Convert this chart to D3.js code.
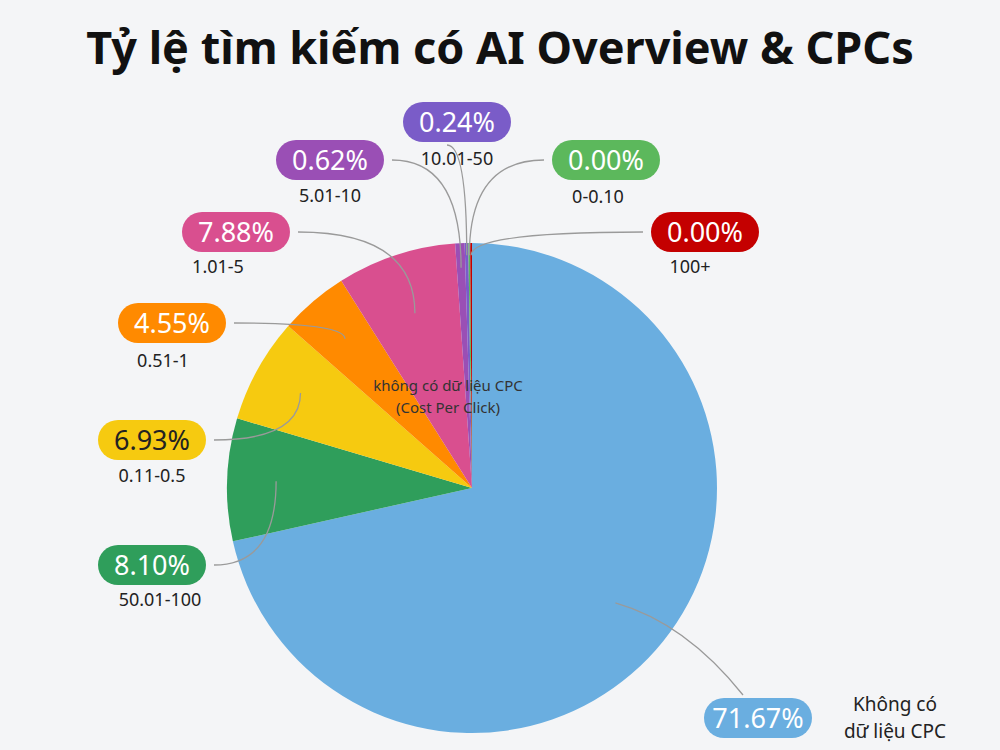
<!DOCTYPE html>
<html><head><meta charset="utf-8">
<script src="https://cdn.jsdelivr.net/npm/d3@7"></script>
<style>body{margin:0;background:#f4f5f7;}svg{display:block;font-family:"Noto Sans",sans-serif;}</style>
</head><body><svg id="c" width="1000" height="750"></svg>
<script>
const categories = ["Không có dữ liệu CPC","50.01-100","0.11-0.5","0.51-1","1.01-5","5.01-10","10.01-50","0-0.10","100+"];
const values = [71.67, 8.10, 6.93, 4.55, 7.88, 0.62, 0.24, 0.00, 0.00];
const colors = ["#6aaee0","#2f9e5b","#f6ca10","#ff8a00","#d94f8f","#9a4fb5","#7a5cc8","#5cb85c","#c40000"];

const svg = d3.select("#c");
svg.append("rect").attr("width",1000).attr("height",750).attr("fill","#f4f5f7");
svg.append("text").attr("x",500).attr("y",64).attr("text-anchor","middle")
  .attr("font-size",45).attr("font-weight",700).attr("fill","#111").text("Tỷ lệ tìm kiếm có AI Overview & CPCs");

const cx=472, cy=488, R=245;
const g = svg.append("g").attr("transform",`translate(${cx},${cy})`);
const data = categories.map((c,i)=>({c,v:values[i],col:colors[i],draw:Math.max(values[i],0.12)}));
const pie = d3.pie().sort(null).value(d=>d.draw);
const arcs = pie(data);
const arc = d3.arc().innerRadius(0).outerRadius(R);
g.selectAll("path").data(arcs).join("path").attr("d",arc).attr("fill",d=>d.data.col);

const layout = [
  {px:758,py:718,lx:null,ly:null,anchor:[0.75,0]},
  {px:152,py:565,lx:160,ly:606,anchor:[0.8,0]},
  {px:152,py:440,lx:152,ly:482,anchor:[0.8,0]},
  {px:172,py:323,lx:163,ly:367,anchor:[0.8,0]},
  {px:236,py:232,lx:218,ly:273,anchor:[0.75,0]},
  {px:330,py:160,lx:330,ly:202,anchor:[0.9,0]},
  {px:457,py:122,lx:457,ly:165,anchor:[0.95,0]},
  {px:606,py:160,lx:598,ly:203,anchor:[0.95,0]},
  {px:705,py:232,lx:690,ly:273,anchor:[0.95,0]}
];
const fmt = d3.format(".2f");
arcs.forEach((a,i)=>{
  const L = layout[i];
  const mid = (a.startAngle+a.endAngle)/2;
  const r = R*L.anchor[0];
  const ax = cx + r*Math.sin(mid), ay = cy - r*Math.cos(mid);
  const w = 108, h = 40;
  let ex, ey;
  if (i===0){ ex=L.px-15; ey=L.py-23; }
  else if (L.px < ax - w/2){ ex=L.px+w/2+8; ey=L.py; }
  else if (L.px > ax + w/2){ ex=L.px-w/2-8; ey=L.py; }
  else { ex=L.px+ (i===6?-10:0); ey=L.py+23; }
  const path = d3.path();
  path.moveTo(ax,ay);
  if (i===0) path.quadraticCurveTo(ax+70,ay+20,ex,ey);
  else path.quadraticCurveTo(ax, ey, ex, ey);
  svg.append("path").attr("d",path.toString()).attr("fill","none").attr("stroke","#9a9a9a").attr("stroke-width",1.3);
  svg.append("rect").attr("x",L.px-w/2).attr("y",L.py-h/2).attr("width",w).attr("height",h).attr("rx",20)
    .attr("fill",a.data.col);
  svg.append("text").attr("x",L.px).attr("y",L.py+10).attr("text-anchor","middle").attr("font-size",27)
    .attr("fill", i===2?"#222":"#fff").text(fmt(a.data.v)+"%");
  if (L.lx!==null){
    svg.append("text").attr("x",L.lx).attr("y",L.ly).attr("text-anchor","middle").attr("font-size",18)
      .attr("fill","#222").text(a.data.c);
  }
});
svg.append("text").attr("x",895).attr("y",711).attr("text-anchor","middle").attr("font-size",19).attr("fill","#222").text("Không có");
svg.append("text").attr("x",895).attr("y",738).attr("text-anchor","middle").attr("font-size",19).attr("fill","#222").text("dữ liệu CPC");
svg.append("text").attr("x",448).attr("y",391).attr("text-anchor","middle").attr("font-size",15).attr("fill","#333").text("không có dữ liệu CPC");
svg.append("text").attr("x",448).attr("y",413).attr("text-anchor","middle").attr("font-size",15).attr("fill","#333").text("(Cost Per Click)");
</script></body></html>
